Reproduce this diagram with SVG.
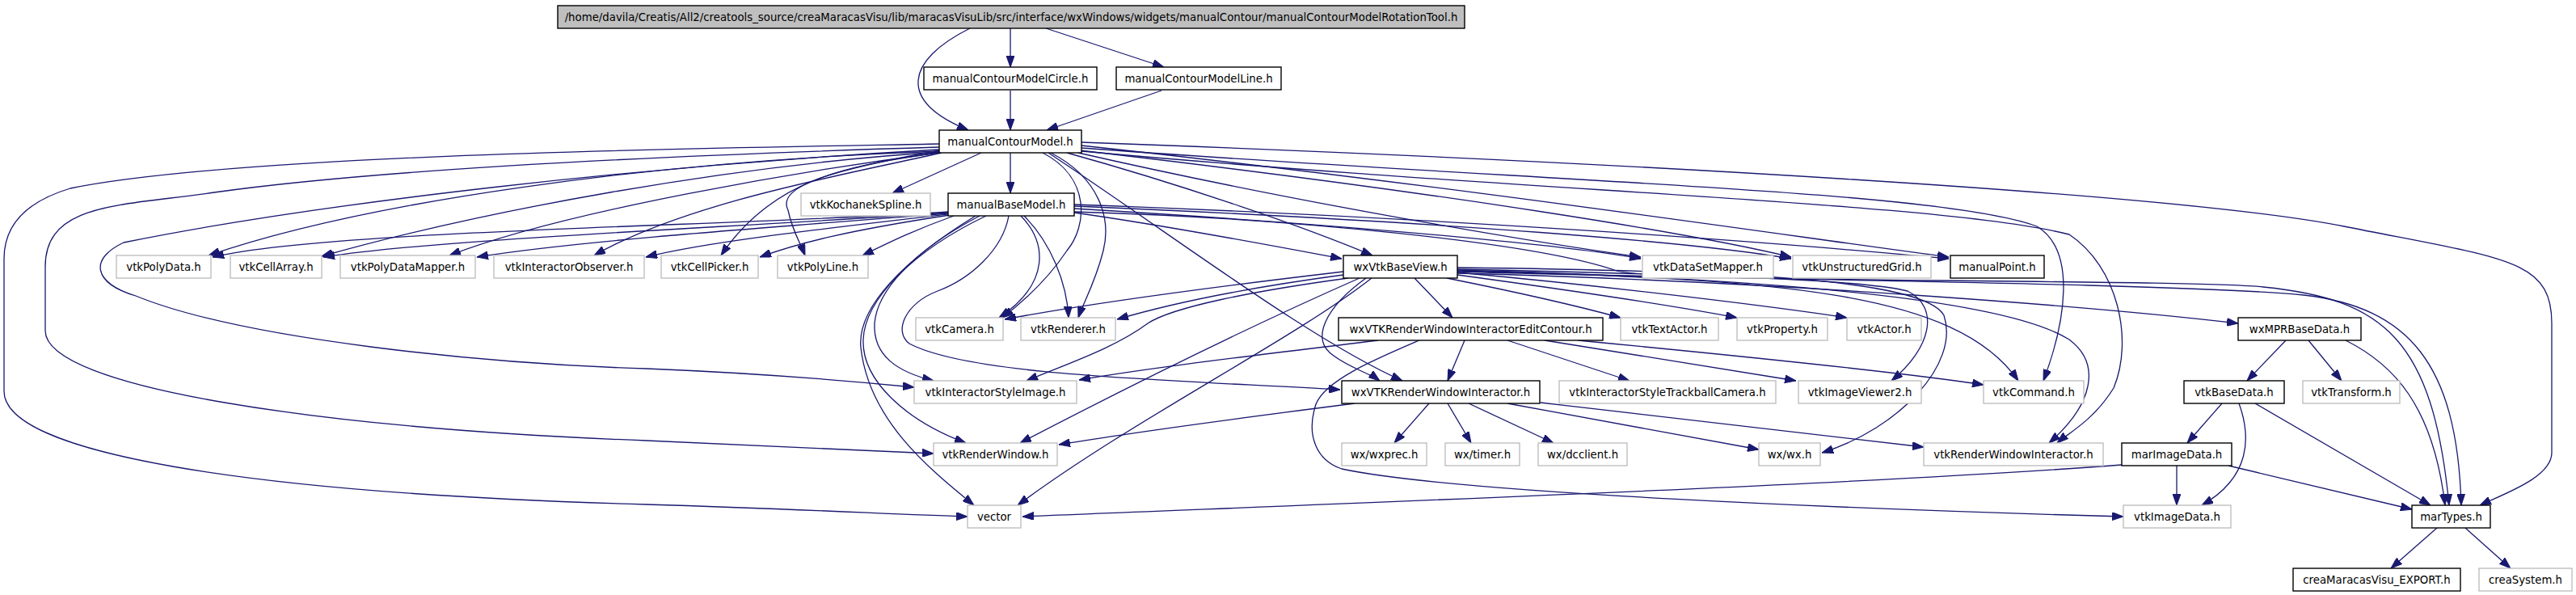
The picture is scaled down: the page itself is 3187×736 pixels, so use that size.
<svg xmlns="http://www.w3.org/2000/svg" width="3187" height="736" viewBox="0 0 3187 736">
<style>
.n rect{fill:#fff;stroke:#000;stroke-width:1.4}
.n.g rect{stroke:#bfbfbf}
.n.r rect{fill:#bfbfbf}
.n text{font-family:"DejaVu Sans","Liberation Sans",sans-serif;font-size:13.3px;text-anchor:middle;fill:#000}
.e path{fill:none;stroke:#191970;stroke-width:1.3;marker-end:url(#a)}
</style>
<defs>
<marker id="a" markerUnits="userSpaceOnUse" markerWidth="14" markerHeight="10" refX="14" refY="5" orient="auto" viewBox="0 0 14 10">
<path d="M0,0 L14,5 L0,10 Z" fill="#191970" stroke="#191970" stroke-width="1"/>
</marker>
</defs>
<rect width="3187" height="736" fill="#fff"/>
<g id="edges" class="e">
<path d="M1200,35 C1120,75 1110,125 1198,161"/>
<path d="M1250,35 L1250,83"/>
<path d="M1294,35 L1440,83"/>
<path d="M1250,112 L1250,161"/>
<path d="M1437,112 L1295,161"/>
<path d="M1214,189 L1104,239"/>
<path d="M1250,189 L1250,239"/>
<path d="M1162,178 C900,183 300,190 87,233 C30,250 5,280 5,320 L5,484 C5,560 300,610 800,624 C1000,630 1100,636 1197,639"/>
<path d="M1162,182 C900,190 500,205 265,238 C150,255 56,250 56,330 L56,409 C56,480 400,530 800,545 C950,551 1080,557 1155,561"/>
<path d="M1162,185 C800,205 400,250 153,300 C110,320 115,350 168,366 C300,420 600,450 800,456 C950,462 1060,472 1131,479"/>
<path d="M1162,187 C800,200 450,250 258,316"/>
<path d="M1162,188 C900,205 600,260 398,317"/>
<path d="M1162,189 C1000,210 700,260 556,316"/>
<path d="M1165,189 C1050,215 850,250 735,316"/>
<path d="M1163,188 C1060,205 960,215 892,316"/>
<path d="M1163,186 C1030,210 960,230 975,260 C980,285 990,300 996,316"/>
<path d="M1290,189 C1350,220 1345,280 1320,310 C1300,340 1270,370 1240,393"/>
<path d="M1300,189 C1360,220 1375,270 1365,310 C1355,350 1340,375 1334,393"/>
<path d="M1320,189 C1450,225 1600,275 1698,316"/>
<path d="M1297,189 C1450,290 1620,420 1735,471"/>
<path d="M1338,176 C2000,200 2700,240 2900,280 C3100,320 3157,320 3157,400 L3157,560 C3157,590 3100,610 3068,625"/>
<path d="M1338,180 C1800,230 2200,290 2411,318"/>
<path d="M1334,189 C1600,250 1900,300 2030,318"/>
<path d="M1336,186 C1800,240 2100,290 2216,318"/>
<path d="M1338,183 C1900,225 2400,235 2520,280 C2570,310 2555,400 2528,471"/>
<path d="M1338,187 C1900,238 2400,250 2560,290 C2620,330 2640,420 2615,480 C2590,520 2560,535 2545,548"/>
<path d="M1173,262 C900,280 400,285 263,318"/>
<path d="M1173,263 C900,282 550,295 400,318"/>
<path d="M1173,264 C900,285 700,300 590,318"/>
<path d="M1173,265 C1000,285 870,300 799,318"/>
<path d="M1175,266 C1050,285 990,300 940,318"/>
<path d="M1180,267 C1130,285 1100,300 1067,316"/>
<path d="M1263,267 C1295,300 1300,350 1236,393"/>
<path d="M1267,267 C1300,300 1320,350 1322,393"/>
<path d="M1207,267 C1120,320 1060,380 1065,430 C1075,520 1150,580 1205,625"/>
<path d="M1220,267 C1130,310 1070,370 1068,420 C1066,470 1120,520 1195,548"/>
<path d="M1212,267 C1130,310 1085,360 1082,400 C1080,440 1110,460 1155,471"/>
<path d="M1248,267 C1240,310 1200,345 1160,360 C1120,375 1105,410 1125,425 C1200,465 1450,470 1658,482"/>
<path d="M1329,263 C1450,280 1580,305 1660,320"/>
<path d="M1329,253 C1800,270 2200,300 2411,320"/>
<path d="M1329,258 C1700,280 1950,305 2030,320"/>
<path d="M1329,255 C1800,275 2100,300 2216,320"/>
<path d="M1329,262 C1600,270 1900,300 2000,335 C2050,350 2700,345 2800,355 C2950,370 3010,420 3030,625"/>
<path d="M1662,336 C1500,355 1350,375 1243,395"/>
<path d="M1662,340 C1550,355 1450,375 1382,395"/>
<path d="M1668,344 C1550,360 1450,380 1420,400 C1380,430 1320,450 1270,471"/>
<path d="M1682,344 C1600,380 1450,450 1262,548"/>
<path d="M1697,344 C1600,420 1400,520 1259,625"/>
<path d="M1690,344 C1640,380 1620,420 1650,440 C1670,455 1695,462 1707,471"/>
<path d="M1750,344 L1797,393"/>
<path d="M1790,344 C1870,360 1950,378 2005,393"/>
<path d="M1803,340 C1950,360 2080,380 2149,393"/>
<path d="M1803,337 C2000,355 2200,380 2285,393"/>
<path d="M1803,333 C2100,340 2300,345 2360,360 C2400,380 2390,430 2340,471"/>
<path d="M1803,331 C2150,335 2380,345 2405,390 C2425,450 2350,530 2254,560"/>
<path d="M1803,335 C2200,345 2420,360 2497,471"/>
<path d="M1803,334 C2200,345 2480,370 2560,420 C2600,450 2590,500 2535,548"/>
<path d="M1803,338 C2200,348 2600,380 2769,400"/>
<path d="M1803,336 C2100,345 2700,350 2850,365 C2980,380 3040,450 3045,625"/>
<path d="M1705,421 C1550,440 1420,455 1335,470"/>
<path d="M1812,421 L1791,471"/>
<path d="M1865,421 L2016,471"/>
<path d="M1911,421 L2222,471"/>
<path d="M1952,421 C2150,440 2350,460 2454,476"/>
<path d="M1756,421 C1700,445 1640,470 1628,500 C1615,540 1630,570 1660,580 C1800,610 2300,630 2627,639"/>
<path d="M1768,499 L1725,548"/>
<path d="M1791,499 L1820,548"/>
<path d="M1817,499 L1922,548"/>
<path d="M1865,499 L2176,556"/>
<path d="M1906,498 C2100,520 2300,545 2380,553"/>
<path d="M1676,499 C1550,515 1400,535 1310,550"/>
<path d="M2828,421 L2780,471"/>
<path d="M2856,421 L2897,471"/>
<path d="M2902,421 C2960,450 3010,500 3025,625"/>
<path d="M2749,499 L2706,548"/>
<path d="M2770,499 C2785,540 2785,590 2724,625"/>
<path d="M2790,499 L3007,625"/>
<path d="M2625,575 C2300,600 1600,625 1265,639"/>
<path d="M2693,576 L2693,625"/>
<path d="M2757,576 L2984,630"/>
<path d="M3015,653 L2958,703"/>
<path d="M3050,653 L3106,703"/>
</g>
<g id="root" class="n r"><rect x="690" y="7" width="1122" height="28"/><text x="1251" y="26">/home/davila/Creatis/All2/creatools_source/creaMaracasVisu/lib/maracasVisuLib/src/interface/wxWindows/widgets/manualContour/manualContourModelRotationTool.h</text></g>
<g id="manualContourModelCircle" class="n"><rect x="1143" y="83" width="214" height="28"/><text x="1250" y="102">manualContourModelCircle.h</text></g>
<g id="manualContourModelLine" class="n"><rect x="1381" y="83" width="204" height="28"/><text x="1483" y="102">manualContourModelLine.h</text></g>
<g id="manualContourModel" class="n"><rect x="1162" y="161" width="176" height="28"/><text x="1250" y="180">manualContourModel.h</text></g>
<g id="vtkKochanekSpline" class="n g"><rect x="991" y="239" width="160" height="28"/><text x="1071" y="258">vtkKochanekSpline.h</text></g>
<g id="manualBaseModel" class="n"><rect x="1173" y="239" width="156" height="28"/><text x="1251" y="258">manualBaseModel.h</text></g>
<g id="vtkPolyData" class="n g"><rect x="144" y="316" width="117" height="28"/><text x="202.5" y="335">vtkPolyData.h</text></g>
<g id="vtkCellArray" class="n g"><rect x="285" y="316" width="113" height="28"/><text x="341.5" y="335">vtkCellArray.h</text></g>
<g id="vtkPolyDataMapper" class="n g"><rect x="421" y="316" width="167" height="28"/><text x="504.5" y="335">vtkPolyDataMapper.h</text></g>
<g id="vtkInteractorObserver" class="n g"><rect x="611" y="316" width="186" height="28"/><text x="704" y="335">vtkInteractorObserver.h</text></g>
<g id="vtkCellPicker" class="n g"><rect x="818" y="316" width="120" height="28"/><text x="878" y="335">vtkCellPicker.h</text></g>
<g id="vtkPolyLine" class="n g"><rect x="962" y="316" width="112" height="28"/><text x="1018" y="335">vtkPolyLine.h</text></g>
<g id="wxVtkBaseView" class="n"><rect x="1662" y="316" width="141" height="28"/><text x="1732.5" y="335">wxVtkBaseView.h</text></g>
<g id="vtkDataSetMapper" class="n g"><rect x="2032" y="316" width="162" height="28"/><text x="2113" y="335">vtkDataSetMapper.h</text></g>
<g id="vtkUnstructuredGrid" class="n g"><rect x="2218" y="316" width="171" height="28"/><text x="2303.5" y="335">vtkUnstructuredGrid.h</text></g>
<g id="manualPoint" class="n"><rect x="2413" y="316" width="116" height="28"/><text x="2471" y="335">manualPoint.h</text></g>
<g id="vtkCamera" class="n g"><rect x="1133" y="393" width="108" height="28"/><text x="1187" y="412">vtkCamera.h</text></g>
<g id="vtkRenderer" class="n g"><rect x="1263" y="393" width="117" height="28"/><text x="1321.5" y="412">vtkRenderer.h</text></g>
<g id="wxVTKRenderWindowInteractorEditContour" class="n"><rect x="1656" y="393" width="327" height="28"/><text x="1819.5" y="412">wxVTKRenderWindowInteractorEditContour.h</text></g>
<g id="vtkTextActor" class="n g"><rect x="2005" y="393" width="121" height="28"/><text x="2065.5" y="412">vtkTextActor.h</text></g>
<g id="vtkProperty" class="n g"><rect x="2149" y="393" width="112" height="28"/><text x="2205" y="412">vtkProperty.h</text></g>
<g id="vtkActor" class="n g"><rect x="2285" y="393" width="92" height="28"/><text x="2331" y="412">vtkActor.h</text></g>
<g id="wxMPRBaseData" class="n"><rect x="2769" y="393" width="152" height="28"/><text x="2845" y="412">wxMPRBaseData.h</text></g>
<g id="vtkInteractorStyleImage" class="n g"><rect x="1131" y="471" width="201" height="28"/><text x="1231.5" y="490">vtkInteractorStyleImage.h</text></g>
<g id="wxVTKRenderWindowInteractor" class="n"><rect x="1660" y="471" width="245" height="28"/><text x="1782.5" y="490">wxVTKRenderWindowInteractor.h</text></g>
<g id="vtkInteractorStyleTrackballCamera" class="n g"><rect x="1929" y="471" width="268" height="28"/><text x="2063" y="490">vtkInteractorStyleTrackballCamera.h</text></g>
<g id="vtkImageViewer2" class="n g"><rect x="2225" y="471" width="152" height="28"/><text x="2301" y="490">vtkImageViewer2.h</text></g>
<g id="vtkCommand" class="n g"><rect x="2454" y="471" width="124" height="28"/><text x="2516" y="490">vtkCommand.h</text></g>
<g id="vtkBaseData" class="n"><rect x="2702" y="471" width="124" height="28"/><text x="2764" y="490">vtkBaseData.h</text></g>
<g id="vtkTransform" class="n g"><rect x="2849" y="471" width="120" height="28"/><text x="2909" y="490">vtkTransform.h</text></g>
<g id="vtkRenderWindow" class="n g"><rect x="1155" y="548" width="153" height="28"/><text x="1231.5" y="567">vtkRenderWindow.h</text></g>
<g id="wxprec" class="n g"><rect x="1660" y="548" width="105" height="28"/><text x="1712.5" y="567">wx/wxprec.h</text></g>
<g id="timer" class="n g"><rect x="1788" y="548" width="92" height="28"/><text x="1834" y="567">wx/timer.h</text></g>
<g id="dcclient" class="n g"><rect x="1903" y="548" width="110" height="28"/><text x="1958" y="567">wx/dcclient.h</text></g>
<g id="wx" class="n g"><rect x="2176" y="548" width="76" height="28"/><text x="2214" y="567">wx/wx.h</text></g>
<g id="vtkRenderWindowInteractor" class="n g"><rect x="2380" y="548" width="222" height="28"/><text x="2491" y="567">vtkRenderWindowInteractor.h</text></g>
<g id="marImageData" class="n"><rect x="2625" y="548" width="136" height="28"/><text x="2693" y="567">marImageData.h</text></g>
<g id="vector" class="n g"><rect x="1197" y="625" width="66" height="28"/><text x="1230" y="644">vector</text></g>
<g id="vtkImageData" class="n g"><rect x="2627" y="625" width="133" height="28"/><text x="2693.5" y="644">vtkImageData.h</text></g>
<g id="marTypes" class="n"><rect x="2984" y="625" width="97" height="28"/><text x="3032.5" y="644">marTypes.h</text></g>
<g id="creaMaracasVisu_EXPORT" class="n"><rect x="2837" y="703" width="207" height="28"/><text x="2940.5" y="722">creaMaracasVisu_EXPORT.h</text></g>
<g id="creaSystem" class="n g"><rect x="3067" y="703" width="115" height="28"/><text x="3124.5" y="722">creaSystem.h</text></g>
</svg>
